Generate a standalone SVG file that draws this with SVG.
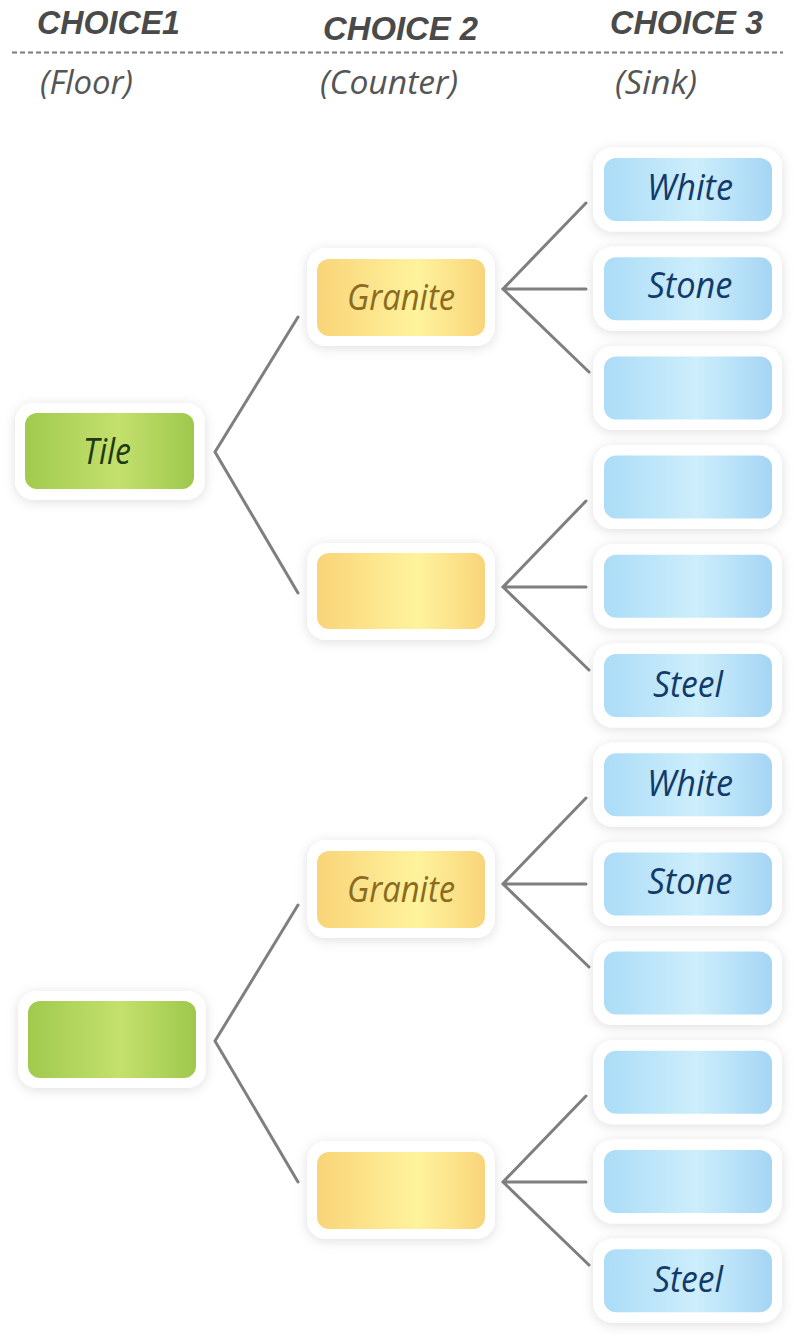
<svg xmlns="http://www.w3.org/2000/svg" width="800" height="1339" viewBox="0 0 800 1339">
  <defs>
    <linearGradient id="gGreen" x1="0" y1="0" x2="1" y2="0">
      <stop offset="0" stop-color="#a0ca4e"/>
      <stop offset="0.55" stop-color="#c4e06d"/>
      <stop offset="1" stop-color="#9ec84c"/>
    </linearGradient>
    <linearGradient id="gOrange" x1="0" y1="0" x2="1" y2="0">
      <stop offset="0" stop-color="#f9d478"/>
      <stop offset="0.6" stop-color="#fef39d"/>
      <stop offset="1" stop-color="#f9d479"/>
    </linearGradient>
    <linearGradient id="gBlue" x1="0" y1="0" x2="1" y2="0">
      <stop offset="0" stop-color="#abdcf7"/>
      <stop offset="0.55" stop-color="#cdeefb"/>
      <stop offset="1" stop-color="#a5d5f5"/>
    </linearGradient>
    <filter id="soft" x="-20%" y="-30%" width="140%" height="160%">
      <feDropShadow dx="0" dy="2" stdDeviation="6" flood-color="#000" flood-opacity="0.13"/>
    </filter>
  </defs>
  <style>
    .frame { fill: #ffffff; filter: url(#soft); }
    .green { fill: url(#gGreen); }
    .orange { fill: url(#gOrange); }
    .blue { fill: url(#gBlue); }
    .lbl { font-family: "Open Sans", "Liberation Sans", sans-serif; font-style: italic; font-size: 36px; text-anchor: middle; }
    .lg { fill: #1f3a12; }
    .lo { fill: #8b6b22; }
    .lb { fill: #123a6b; }
    .head { font-family: "Liberation Sans", "Open Sans", sans-serif; font-style: italic; font-weight: bold; font-size: 33px; fill: #4a4a4a; }
    .sub { font-family: "Open Sans", "Liberation Sans", sans-serif; font-style: italic; font-size: 32px; fill: #555555; }
    .wire { fill: none; stroke: #7f7f7f; stroke-width: 3; stroke-linecap: round; stroke-linejoin: miter; }
  </style>

  <rect width="800" height="1339" fill="#ffffff"/>

  <!-- column headings -->
  <g id="headings">
    <text class="head" x="37" y="34" textLength="143" lengthAdjust="spacingAndGlyphs">CHOICE1</text>
    <text class="head" x="323" y="40" textLength="155" lengthAdjust="spacingAndGlyphs">CHOICE 2</text>
    <text class="head" x="610" y="34" textLength="153" lengthAdjust="spacingAndGlyphs">CHOICE 3</text>
    <line x1="12" y1="52.5" x2="783" y2="52.5" stroke="#7a7a7a" stroke-width="1.8" stroke-dasharray="5 3"/>
    <text class="sub" x="40" y="94" textLength="93" lengthAdjust="spacingAndGlyphs">(Floor)</text>
    <text class="sub" x="320" y="94" textLength="138" lengthAdjust="spacingAndGlyphs">(Counter)</text>
    <text class="sub" x="615" y="94" textLength="82" lengthAdjust="spacingAndGlyphs">(Sink)</text>
  </g>

  <!-- branch lines -->
  <g id="connectors">
    <polyline class="wire" points="298,317 215,452 298,593"/>
    <polyline class="wire" points="298,905 215,1041 298,1182"/>
    <path class="wire" d="M586,203 L503,289 L589,372 M503,289 L586,289"/>
    <path class="wire" d="M586,501 L503,587 L589,670 M503,587 L586,587"/>
    <path class="wire" d="M586,798 L503,884 L589,967 M503,884 L586,884"/>
    <path class="wire" d="M586,1096 L503,1182 L589,1265 M503,1182 L586,1182"/>
  </g>

  <!-- floor -->
  <g id="floor-1">
    <rect class="frame" x="15" y="403" width="190" height="97" rx="19"/>
    <rect class="green" x="25" y="413" width="169" height="76" rx="12"/>
    <text class="lbl lg" x="107" y="464" textLength="48" lengthAdjust="spacingAndGlyphs">Tile</text>
  </g>
  <g id="floor-2">
    <rect class="frame" x="18" y="991" width="188" height="97" rx="19"/>
    <rect class="green" x="28" y="1001" width="168" height="77" rx="12"/>
  </g>

  <!-- counter -->
  <g id="counter-1">
    <rect class="frame" x="307" y="248" width="188" height="98" rx="19"/>
    <rect class="orange" x="317" y="259" width="168" height="77" rx="12"/>
    <text class="lbl lo" x="401" y="310" textLength="108" lengthAdjust="spacingAndGlyphs">Granite</text>
  </g>
  <g id="counter-2">
    <rect class="frame" x="307" y="543" width="188" height="97" rx="19"/>
    <rect class="orange" x="317" y="553" width="168" height="76" rx="12"/>
  </g>
  <g id="counter-3">
    <rect class="frame" x="307" y="840" width="188" height="98" rx="19"/>
    <rect class="orange" x="317" y="851" width="168" height="77" rx="12"/>
    <text class="lbl lo" x="401" y="902" textLength="108" lengthAdjust="spacingAndGlyphs">Granite</text>
  </g>
  <g id="counter-4">
    <rect class="frame" x="307" y="1141" width="188" height="98" rx="19"/>
    <rect class="orange" x="317" y="1152" width="168" height="77" rx="12"/>
  </g>

  <!-- sink -->
  <g id="sink-1">
    <rect class="frame" x="593" y="147.5" width="189" height="84" rx="20"/>
    <rect class="blue" x="604" y="158" width="168" height="63" rx="12"/>
    <text class="lbl lb" x="690" y="200" textLength="86" lengthAdjust="spacingAndGlyphs">White</text>
  </g>
  <g id="sink-2">
    <rect class="frame" x="593" y="246.7" width="189" height="84" rx="20"/>
    <rect class="blue" x="604" y="257.2" width="168" height="63" rx="12"/>
    <text class="lbl lb" x="690" y="298" textLength="85" lengthAdjust="spacingAndGlyphs">Stone</text>
  </g>
  <g id="sink-3">
    <rect class="frame" x="593" y="345.9" width="189" height="84" rx="20"/>
    <rect class="blue" x="604" y="356.4" width="168" height="63" rx="12"/>
  </g>
  <g id="sink-4">
    <rect class="frame" x="593" y="445.1" width="189" height="84" rx="20"/>
    <rect class="blue" x="604" y="455.6" width="168" height="63" rx="12"/>
  </g>
  <g id="sink-5">
    <rect class="frame" x="593" y="544.3" width="189" height="84" rx="20"/>
    <rect class="blue" x="604" y="554.8" width="168" height="63" rx="12"/>
  </g>
  <g id="sink-6">
    <rect class="frame" x="593" y="643.5" width="189" height="84" rx="20"/>
    <rect class="blue" x="604" y="654" width="168" height="63" rx="12"/>
    <text class="lbl lb" x="688" y="697" textLength="70" lengthAdjust="spacingAndGlyphs">Steel</text>
  </g>
  <g id="sink-7">
    <rect class="frame" x="593" y="742.7" width="189" height="84" rx="20"/>
    <rect class="blue" x="604" y="753.2" width="168" height="63" rx="12"/>
    <text class="lbl lb" x="690" y="796" textLength="86" lengthAdjust="spacingAndGlyphs">White</text>
  </g>
  <g id="sink-8">
    <rect class="frame" x="593" y="841.9" width="189" height="84" rx="20"/>
    <rect class="blue" x="604" y="852.4" width="168" height="63" rx="12"/>
    <text class="lbl lb" x="690" y="894" textLength="85" lengthAdjust="spacingAndGlyphs">Stone</text>
  </g>
  <g id="sink-9">
    <rect class="frame" x="593" y="941.1" width="189" height="84" rx="20"/>
    <rect class="blue" x="604" y="951.6" width="168" height="63" rx="12"/>
  </g>
  <g id="sink-10">
    <rect class="frame" x="593" y="1040.3" width="189" height="84" rx="20"/>
    <rect class="blue" x="604" y="1050.8" width="168" height="63" rx="12"/>
  </g>
  <g id="sink-11">
    <rect class="frame" x="593" y="1139.5" width="189" height="84" rx="20"/>
    <rect class="blue" x="604" y="1150" width="168" height="63" rx="12"/>
  </g>
  <g id="sink-12">
    <rect class="frame" x="593" y="1238.7" width="189" height="84" rx="20"/>
    <rect class="blue" x="604" y="1249.2" width="168" height="63" rx="12"/>
    <text class="lbl lb" x="688" y="1292" textLength="70" lengthAdjust="spacingAndGlyphs">Steel</text>
  </g>
</svg>
